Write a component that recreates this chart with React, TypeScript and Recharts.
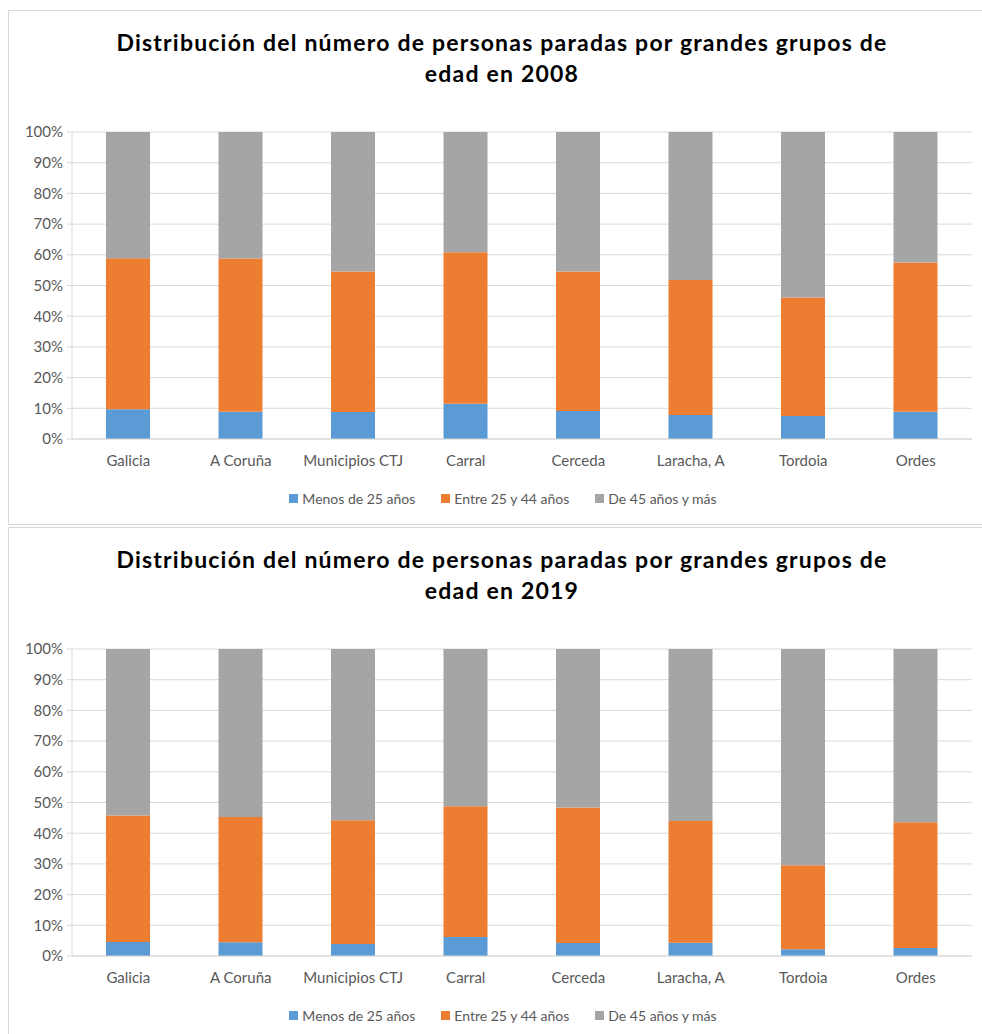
import React from "react";
import { Bar, BarChart, CartesianGrid, Legend, XAxis, YAxis } from "recharts";

const municipios = ["Galicia", "A Coruña", "Municipios CTJ", "Carral", "Cerceda", "Laracha, A", "Tordoia", "Ordes"];

// 2008 shares (%)
const menos2008 = [9.7, 8.9, 8.8, 11.5, 9.1, 7.8, 7.5, 8.9];
const entre2008 = [49.2, 49.9, 45.8, 49.3, 45.5, 44.0, 38.6, 48.6];
const mayores2008 = [41.1, 41.2, 45.4, 39.2, 45.4, 48.2, 53.9, 42.5];

// 2019 shares (%)
const menos2019 = [4.6, 4.5, 3.9, 6.2, 4.2, 4.3, 2.2, 2.6];
const entre2019 = [41.2, 40.8, 40.3, 42.6, 44.2, 39.7, 27.4, 41.0];
const mayores2019 = [54.2, 54.7, 55.8, 51.2, 51.6, 56.0, 70.4, 56.4];

const yTicks = [0, 0.1, 0.2, 0.3, 0.4, 0.5, 0.6, 0.7, 0.8, 0.9, 1];

const series = [
  { key: "menos", name: "Menos de 25 años", color: "#5B9BD5" },
  { key: "entre", name: "Entre 25 y 44 años", color: "#ED7D31" },
  { key: "mayores", name: "De 45 años y más", color: "#A5A5A5" },
];

const FONT = "Lato, 'Open Sans', sans-serif";

function buildRows(menos: number[], entre: number[], mayores: number[]) {
  return municipios.map((name, i) => ({ name, menos: menos[i], entre: entre[i], mayores: mayores[i] }));
}

function AgeLegend() {
  return (
    <div style={{ display: "flex", justifyContent: "center", alignItems: "center", height: 20, fontFamily: FONT, fontSize: 14, color: "#595959", paddingLeft: 26 }}>
      {series.map((s) => (
        <div key={s.key} style={{ display: "flex", alignItems: "center", margin: "0 13px" }}>
          <span style={{ width: 9, height: 9, background: s.color, marginRight: 4, display: "inline-block" }} />
          <span>{s.name}</span>
        </div>
      ))}
    </div>
  );
}

function AgeChart({ year, rows, top }: { year: string; rows: ReturnType<typeof buildRows>; top: number }) {
  return (
    <>
      <div style={{ position: "absolute", left: 8, top, width: 990, height: 515, border: "1px solid #d9d9d9", boxSizing: "border-box", background: "#fff" }} />
      <div style={{ position: "absolute", left: 15, top: top + 17, width: 974, textAlign: "center", fontFamily: FONT, fontWeight: 700, fontSize: 23, letterSpacing: 1.2, lineHeight: "31px", color: "#000" }}>
        Distribución del número de personas paradas por grandes grupos de
        <br />
        edad en {year}
      </div>
      <div style={{ position: "absolute", left: 8, top }}>
        <BarChart width={974} height={515} data={rows} stackOffset="expand" margin={{ top: 122, right: 10, bottom: 17, left: 0 }}>
          <CartesianGrid vertical={false} stroke="#d9d9d9" />
          <XAxis
            dataKey="name"
            height={49}
            tickLine={false}
            tickSize={0}
            tickMargin={16}
            axisLine={{ stroke: "#d9d9d9" }}
            tick={{ fill: "#595959", fontSize: 15, fontFamily: FONT }}
            interval={0}
          />
          <YAxis
            width={64}
            domain={[0, 1]}
            ticks={yTicks}
            tickSize={5}
            tickMargin={4}
            tickLine={{ stroke: "#d9d9d9" }}
            axisLine={{ stroke: "#d9d9d9" }}
            tick={{ fill: "#595959", fontSize: 15, fontFamily: FONT }}
            tickFormatter={(v) => `${Math.round(Number(v) * 100)}%`}
          />
          <Legend verticalAlign="bottom" height={20} content={() => <AgeLegend />} />
          {series.map((s) => (
            <Bar key={s.key} dataKey={s.key} name={s.name} stackId="a" fill={s.color} barSize={44} isAnimationActive={false} />
          ))}
        </BarChart>
      </div>
    </>
  );
}

export default function App() {
  return (
    <div style={{ position: "relative", width: 982, height: 1034, overflow: "hidden", background: "#fff" }}>
      <style>{`body{margin:0;}`}</style>
      <AgeChart year="2008" rows={buildRows(menos2008, entre2008, mayores2008)} top={10} />
      <AgeChart year="2019" rows={buildRows(menos2019, entre2019, mayores2019)} top={527} />
    </div>
  );
}
